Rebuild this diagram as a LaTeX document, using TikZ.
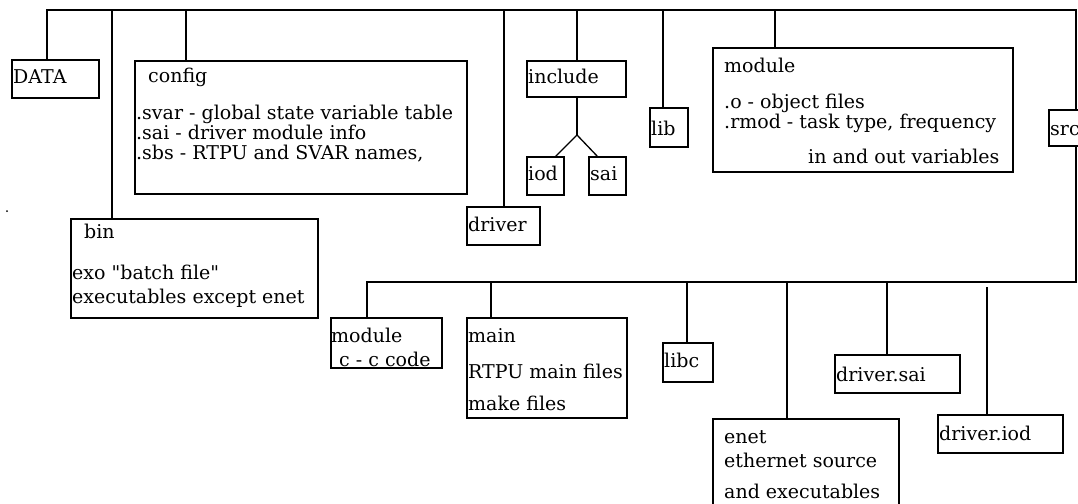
\documentclass[tikz,border=0pt]{standalone}
\usepackage{fontspec}
\setmainfont{DejaVu Serif}[Ligatures=TeXOff]
\begin{document}
\begin{tikzpicture}[x=1pt,y=-1pt,
  box/.style={draw, line width=1.7pt, anchor=north west, inner sep=0pt, outer sep=0pt},
  txt/.style={anchor=base west, inner sep=0pt, font=\fontsize{19}{21}\selectfont},
  wire/.style={line width=1.3pt}]
\clip (0,0) rectangle (1078,503);
\fill[white] (0,0) rectangle (1078,503);

% directory boxes, upper level
\node[box, minimum width=87,  minimum height=38]  (data)    at (12,60)   {};
\node[box, minimum width=332, minimum height=133] (config)  at (135,61)  {};
\node[box, minimum width=247, minimum height=99]  (bin)     at (71,219)  {};
\node[box, minimum width=73,  minimum height=38]  (driver)  at (467,207) {};
\node[box, minimum width=99,  minimum height=36]  (include) at (527,61)  {};
\node[box, minimum width=37,  minimum height=38]  (iod)     at (527,157) {};
\node[box, minimum width=37,  minimum height=38]  (sai)     at (589,157) {};
\node[box, minimum width=38,  minimum height=39]  (lib)     at (650,108) {};
\node[box, minimum width=300, minimum height=124] (module)  at (713,48)  {};
\node[box, minimum width=51,  minimum height=36]  (src)     at (1049,110){};

% directory boxes under src
\node[box, minimum width=111, minimum height=50]  (modc)    at (331,318) {};
\node[box, minimum width=160, minimum height=100] (main)    at (467,318) {};
\node[box, minimum width=50,  minimum height=39]  (libc)    at (663,343) {};
\node[box, minimum width=186, minimum height=101] (enet)    at (713,419) {};
\node[box, minimum width=125, minimum height=38]  (dsai)    at (835,355) {};
\node[box, minimum width=125, minimum height=38]  (diod)    at (938,415) {};

% labels
\node[txt] (tdata) at (13,83) {DATA};
\node[txt] (tcfg)  at (148,82) {config};
\node[txt] (tcfg1) at (136,119) {.svar - global state variable table};
\node[txt] (tcfg2) at (136,139) {.sai - driver module info};
\node[txt] (tcfg3) at (136,159) {.sbs - RTPU and SVAR names,};
\node[txt] (tbin)  at (84,238) {bin};
\node[txt] (tbin1) at (72,279) {exo "batch file"};
\node[txt] (tbin2) at (72,303) {executables except enet};
\node[txt] (tdrv)  at (468,231) {driver};
\node[txt] (tinc)  at (528,83) {include};
\node[txt] (tiod)  at (528,180) {iod};
\node[txt] (tsai)  at (590,180) {sai};
\node[txt] (tlib)  at (651,135) {lib};
\node[txt] (tmod)  at (724,72) {module};
\node[txt] (tmod1) at (724,108) {.o - object files};
\node[txt] (tmod2) at (724,128) {.rmod - task type, frequency};
\node[txt] (tmod3) at (808,163) {in and out variables};
\node[txt] (tsrc)  at (1050,135) {src};
\node[txt] (tmc)   at (331,342) {module};
\node[txt] (tmc1)  at (339,366) {c - c code};
\node[txt] (tmain) at (468,342) {main};
\node[txt] (tmn1)  at (468,378) {RTPU main files};
\node[txt] (tmn2)  at (468,410) {make files};
\node[txt] (tlibc) at (664,367) {libc};
\node[txt] (tdsai) at (836,381) {driver.sai};
\node[txt] (tdiod) at (939,440) {driver.iod};
\node[txt] (tenet) at (724,443) {enet};
\node[txt] (ten1)  at (724,467) {ethernet source};
\node[txt] (ten2)  at (724,498) {and executables};

% upper bus and its branches
\coordinate (busL) at (47,10);
\coordinate (busR) at (1076,10);
\coordinate (jbin) at (112,10);
\coordinate (jcfg) at (186,10);
\coordinate (jdrv) at (504,10);
\coordinate (jinc) at (577,10);
\coordinate (jlib) at (663,10);
\coordinate (jmod) at (775,10);
\draw[wire] (busL |- data.north) -- (busL) -- (busR) -- (busR |- src.north);
\draw[wire] (jbin) -- (jbin |- bin.north);
\draw[wire] (jcfg) -- (jcfg |- config.north);
\draw[wire] (jdrv) -- (jdrv |- driver.north);
\draw[wire] (jinc) -- (jinc |- include.north);
\draw[wire] (jlib) -- (jlib |- lib.north);
\draw[wire] (jmod) -- (jmod |- module.north);

% include fork
\coordinate (fork) at (577,135);
\coordinate (fiod) at (555,157);
\coordinate (fsai) at (598,157);
\draw[wire] (jinc |- include.south) -- (fork);
\draw[wire] (fiod) -- (fork) -- (fsai);

% lower bus from src
\coordinate (lbR) at (1076,282);
\coordinate (lbL) at (367,282);
\coordinate (jmain) at (491,282);
\coordinate (jlibc) at (687,282);
\coordinate (jenet) at (787,282);
\coordinate (jdsai) at (887,282);
\coordinate (jdiod) at (987,287);
\draw[wire] (busR |- src.south) -- (lbR) -- (lbL) -- (lbL |- modc.north);
\draw[wire] (jmain) -- (jmain |- main.north);
\draw[wire] (jlibc) -- (jlibc |- libc.north);
\draw[wire] (jenet) -- (jenet |- enet.north);
\draw[wire] (jdsai) -- (jdsai |- dsai.north);
\draw[wire] (jdiod) -- (jdiod |- diod.north);

% speck
\fill (7,211) circle (1);
\end{tikzpicture}
\end{document}
